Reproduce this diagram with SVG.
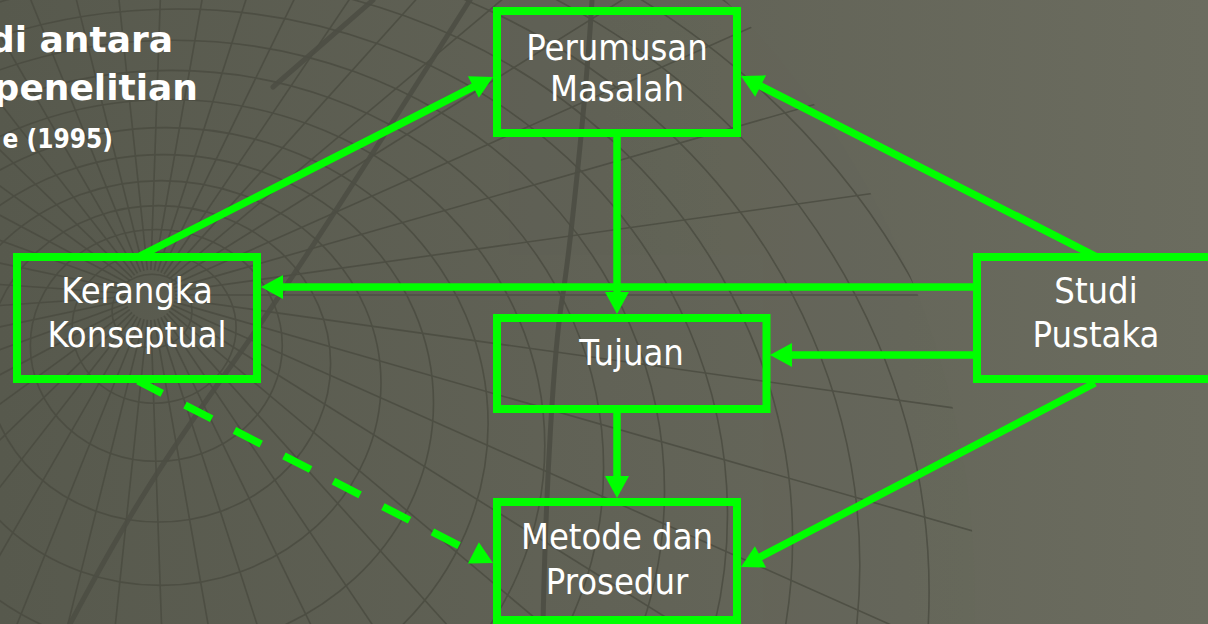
<svg xmlns="http://www.w3.org/2000/svg" xmlns:xlink="http://www.w3.org/1999/xlink" width="1208" height="624" viewBox="0 0 1208 624">
  <defs>
    <linearGradient id="bg" x1="0" y1="0" x2="1" y2="0">
      <stop offset="0" stop-color="#57594d"/>
      <stop offset="0.5" stop-color="#616256"/>
      <stop offset="1" stop-color="#6b6c5f"/>
    </linearGradient>
    <clipPath id="globe">
      <circle cx="130" cy="600" r="845"/>
    </clipPath>
    <line id="ray" x1="175" y1="295" x2="1250" y2="295"/>
    <marker id="head" markerUnits="userSpaceOnUse" viewBox="0 0 22 24" markerWidth="22" markerHeight="24" refX="10" refY="12" orient="auto" overflow="visible">
      <path d="M0,0 L22,12 L0,24 Z" fill="#00ff00"/>
    </marker>
    <style>
      .grid { fill: none; stroke: #4a4b40; stroke-width: 1.6; opacity: 0.8; }
      .thick { fill: none; stroke: #4d4e44; stroke-width: 5; stroke-linecap: round; opacity: 0.9; }
      .box { fill: none; stroke: #00ff00; stroke-width: 8; }
      .label { font-family: "DejaVu Sans Condensed", "DejaVu Sans", sans-serif; font-stretch: condensed; font-size: 36px; fill: #ffffff; text-anchor: middle; }
      .title { font-family: "DejaVu Sans", "Verdana", sans-serif; font-weight: bold; font-size: 36px; fill: #ffffff; text-anchor: end; }
      .subtitle { font-family: "DejaVu Sans Condensed", "DejaVu Sans", sans-serif; font-stretch: condensed; font-weight: bold; font-size: 26px; fill: #ffffff; text-anchor: end; }
      .edge { fill: none; stroke: #00ff00; stroke-width: 7.5; marker-end: url(#head); }
      .dashed { stroke-dasharray: 30 25.6; stroke-dashoffset: 2.8; }
    </style>
  </defs>

  <!-- backdrop: tinted field with a wireframe globe -->
  <g id="backdrop">
    <rect x="0" y="0" width="1208" height="624" fill="url(#bg)"/>
    <g clip-path="url(#globe)" class="grid">
      <ellipse cx="152" cy="311" rx="40" ry="36.8"/>
      <ellipse cx="154.1" cy="327.8" rx="82" ry="75.4"/>
      <ellipse cx="156.3" cy="345.4" rx="126" ry="115.9"/>
      <ellipse cx="158.6" cy="363.8" rx="172" ry="158.2"/>
      <ellipse cx="161" cy="383" rx="220" ry="202.4"/>
      <ellipse cx="163.5" cy="403" rx="270" ry="248.4"/>
      <ellipse cx="166.1" cy="423.8" rx="322" ry="296.2"/>
      <ellipse cx="168.8" cy="445.4" rx="376" ry="345.9"/>
      <ellipse cx="171.6" cy="467.8" rx="432" ry="397.4"/>
      <ellipse cx="174.5" cy="491" rx="490" ry="450.8"/>
      <ellipse cx="177.5" cy="515" rx="550" ry="506"/>
      <ellipse cx="180.6" cy="539.8" rx="612" ry="563"/>
      <ellipse cx="183.8" cy="565.4" rx="676" ry="622"/>
      <ellipse cx="187.1" cy="591.8" rx="742" ry="682.6"/>
      <ellipse cx="190.5" cy="619" rx="810" ry="745.2"/>
      <ellipse cx="194" cy="647" rx="880" ry="809.6"/>
      <use xlink:href="#ray" transform="rotate(0 150 295)"/>
      <use xlink:href="#ray" transform="rotate(8 150 295)"/>
      <use xlink:href="#ray" transform="rotate(16 150 295)"/>
      <use xlink:href="#ray" transform="rotate(24 150 295)"/>
      <use xlink:href="#ray" transform="rotate(32 150 295)"/>
      <use xlink:href="#ray" transform="rotate(40 150 295)"/>
      <use xlink:href="#ray" transform="rotate(48 150 295)"/>
      <use xlink:href="#ray" transform="rotate(56 150 295)"/>
      <use xlink:href="#ray" transform="rotate(64 150 295)"/>
      <use xlink:href="#ray" transform="rotate(72 150 295)"/>
      <use xlink:href="#ray" transform="rotate(80 150 295)"/>
      <use xlink:href="#ray" transform="rotate(88 150 295)"/>
      <use xlink:href="#ray" transform="rotate(96 150 295)"/>
      <use xlink:href="#ray" transform="rotate(104 150 295)"/>
      <use xlink:href="#ray" transform="rotate(112 150 295)"/>
      <use xlink:href="#ray" transform="rotate(120 150 295)"/>
      <use xlink:href="#ray" transform="rotate(128 150 295)"/>
      <use xlink:href="#ray" transform="rotate(136 150 295)"/>
      <use xlink:href="#ray" transform="rotate(144 150 295)"/>
      <use xlink:href="#ray" transform="rotate(152 150 295)"/>
      <use xlink:href="#ray" transform="rotate(160 150 295)"/>
      <use xlink:href="#ray" transform="rotate(168 150 295)"/>
      <use xlink:href="#ray" transform="rotate(176 150 295)"/>
      <use xlink:href="#ray" transform="rotate(184 150 295)"/>
      <use xlink:href="#ray" transform="rotate(192 150 295)"/>
      <use xlink:href="#ray" transform="rotate(200 150 295)"/>
      <use xlink:href="#ray" transform="rotate(208 150 295)"/>
      <use xlink:href="#ray" transform="rotate(216 150 295)"/>
      <use xlink:href="#ray" transform="rotate(224 150 295)"/>
      <use xlink:href="#ray" transform="rotate(232 150 295)"/>
      <use xlink:href="#ray" transform="rotate(240 150 295)"/>
      <use xlink:href="#ray" transform="rotate(248 150 295)"/>
      <use xlink:href="#ray" transform="rotate(256 150 295)"/>
      <use xlink:href="#ray" transform="rotate(264 150 295)"/>
      <use xlink:href="#ray" transform="rotate(272 150 295)"/>
      <use xlink:href="#ray" transform="rotate(280 150 295)"/>
      <use xlink:href="#ray" transform="rotate(288 150 295)"/>
      <use xlink:href="#ray" transform="rotate(296 150 295)"/>
      <use xlink:href="#ray" transform="rotate(304 150 295)"/>
      <use xlink:href="#ray" transform="rotate(312 150 295)"/>
      <use xlink:href="#ray" transform="rotate(320 150 295)"/>
      <use xlink:href="#ray" transform="rotate(328 150 295)"/>
      <use xlink:href="#ray" transform="rotate(336 150 295)"/>
      <use xlink:href="#ray" transform="rotate(344 150 295)"/>
      <use xlink:href="#ray" transform="rotate(352 150 295)"/>
    </g>
    <path class="thick" d="M273,87 L373,0"/>
    <path class="thick" d="M470,0 C400,110 300,270 228,370 S120,530 70,624"/>
    <path class="thick" d="M592,0 C586,100 570,250 562,300 S546,480 543,624"/>
  </g>

  <!-- heading, running off the left edge -->
  <g id="heading">
    <text class="title" x="173" y="52">di antara</text>
    <text class="title" x="198" y="100">penelitian</text>
    <text class="subtitle" x="113" y="148">e (1995)</text>
  </g>

  <!-- connectors -->
  <g id="connectors">
    <path class="edge" d="M140,256 L482.3,82.4"/>
    <path class="edge" d="M1097,257 L751.7,81.5"/>
    <path class="edge" d="M617,137 L617,302"/>
    <path class="edge" d="M973,287 L273,287"/>
    <path class="edge" d="M973,355 L782,355"/>
    <path class="edge" d="M617,413 L617,486"/>
    <path class="edge" d="M1095,383 L751.6,561.5"/>
    <path class="edge dashed" d="M138,381 L482.3,557.5"/>
  </g>

  <!-- nodes -->
  <g id="perumusan-masalah">
    <rect class="box" x="497" y="11" width="240" height="122"/>
    <text class="label" x="617" y="60">Perumusan</text>
    <text class="label" x="617" y="101">Masalah</text>
  </g>
  <g id="kerangka-konseptual">
    <rect class="box" x="17" y="257" width="240" height="122"/>
    <text class="label" x="137" y="303">Kerangka</text>
    <text class="label" x="137" y="347">Konseptual</text>
  </g>
  <g id="tujuan">
    <rect class="box" x="497" y="318" width="269.5" height="91"/>
    <text class="label" x="631.5" y="365">Tujuan</text>
  </g>
  <g id="metode-prosedur">
    <rect class="box" x="497" y="502" width="240" height="118"/>
    <text class="label" x="617" y="549">Metode dan</text>
    <text class="label" x="617" y="594">Prosedur</text>
  </g>
  <g id="studi-pustaka">
    <rect class="box" x="977" y="257" width="240" height="122"/>
    <text class="label" x="1096" y="303">Studi</text>
    <text class="label" x="1096" y="347">Pustaka</text>
  </g>
</svg>
